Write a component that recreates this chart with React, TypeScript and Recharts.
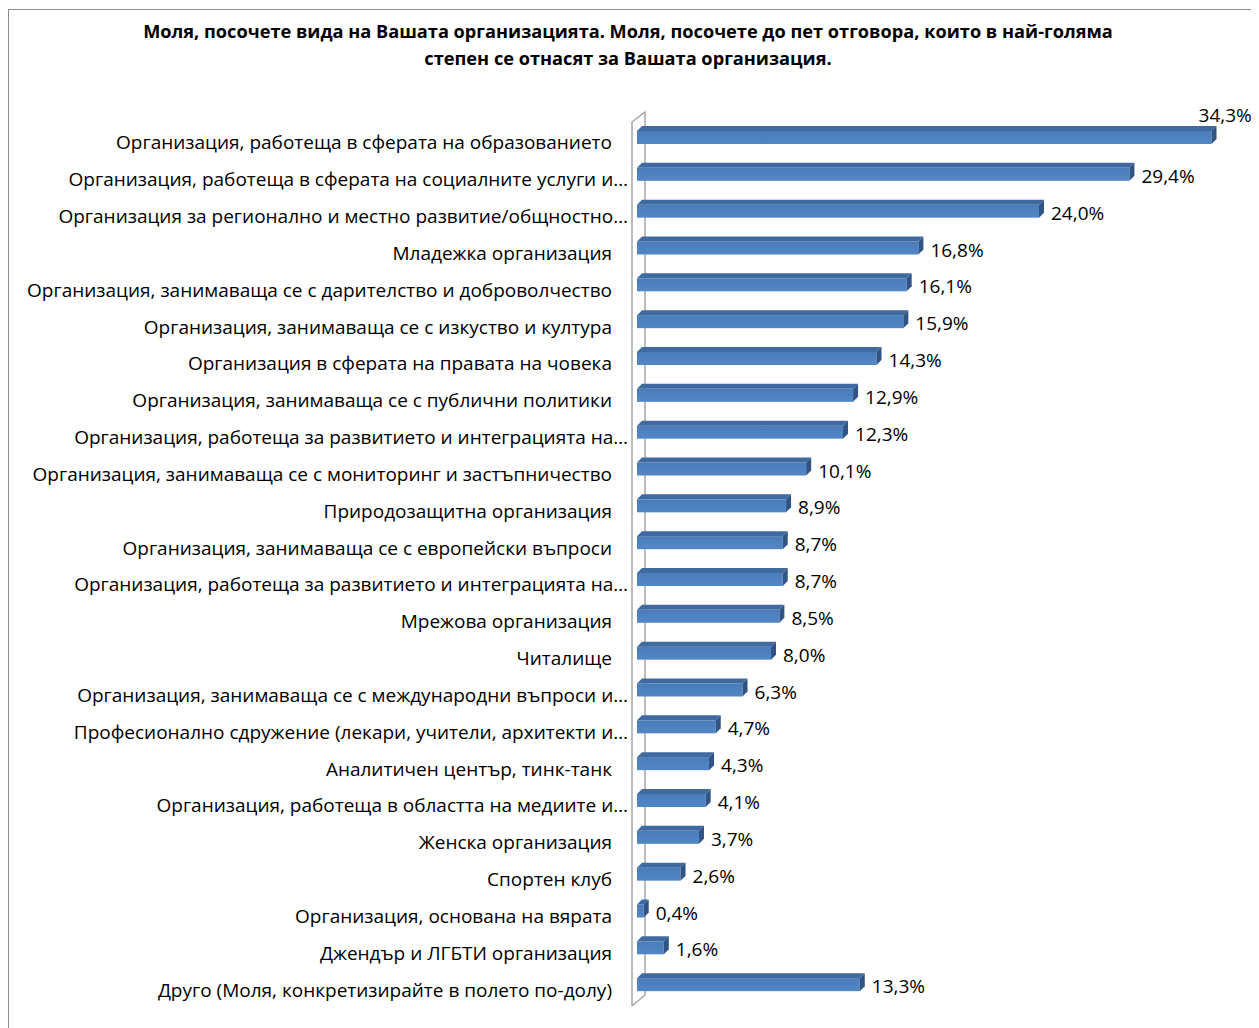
import React from 'react';
import { BarChart, Bar, XAxis, YAxis, LabelList, usePlotArea } from 'recharts';

const categories = [
  'Организация, работеща в сферата на образованието',
  'Организация, работеща в сферата на социалните услуги и…',
  'Организация за регионално и местно развитие/общностно…',
  'Младежка организация',
  'Организация, занимаваща се с дарителство и доброволчество',
  'Организация, занимаваща се с изкуство и култура',
  'Организация в сферата на правата на човека',
  'Организация, занимаваща се с публични политики',
  'Организация, работеща за развитието и интеграцията на…',
  'Организация, занимаваща се с мониторинг и застъпничество',
  'Природозащитна организация',
  'Организация, занимаваща се с европейски въпроси',
  'Организация, работеща за развитието и интеграцията на…',
  'Мрежова организация',
  'Читалище',
  'Организация, занимаваща се с международни въпроси и…',
  'Професионално сдружение (лекари, учители, архитекти и…',
  'Аналитичен център, тинк-танк',
  'Организация, работеща в областта на медиите и…',
  'Женска организация',
  'Спортен клуб',
  'Организация, основана на вярата',
  'Джендър и ЛГБТИ организация',
  'Друго (Моля, конкретизирайте в полето по-долу)',
];

const percents = [
  34.3, 29.4, 24.0, 16.8, 16.1, 15.9, 14.3, 12.9, 12.3, 10.1, 8.9, 8.7,
  8.7, 8.5, 8.0, 6.3, 4.7, 4.3, 4.1, 3.7, 2.6, 0.4, 1.6, 13.3,
];

const titleLines = [
  'Моля, посочете вида на Вашата организацията. Моля, посочете до пет отговора, които в най-голяма',
  'степен се отнасят за Вашата организация.',
];

const data = categories.map((name, i) => ({ id: i, name, value: percents[i] }));

const FONT = '"Open Sans", "Liberation Sans", sans-serif';
const D = 5; // depth of the 3d bars

const fmt = (v: number) => v.toFixed(1).replace('.', ',') + '%';

function Bar3D(props: any) {
  const { x, y, width, height } = props;
  if (width == null || height == null) return null;
  const w = Math.max(width, 2);
  return (
    <g>
      <rect x={x} y={y + D} width={w} height={height - D} fill="url(#frontGrad)" />
      <polygon
        points={`${x},${y + D} ${x + D},${y} ${x + w + D},${y} ${x + w},${y + D}`}
        fill="#3f6a9f"
      />
      <polygon
        points={`${x + w},${y + D} ${x + w + D},${y} ${x + w + D},${y + height - D} ${x + w},${y + height}`}
        fill="#2f5485"
      />
    </g>
  );
}

function Wall() {
  const area: any = usePlotArea ? usePlotArea() : null;
  if (!area) return null;
  const fx = area.x - 5;
  const bx = area.x + 8;
  const top = area.y;
  const bot = area.y + area.height;
  return (
    <g stroke="#a6a6a6" strokeWidth={1.5} fill="none">
      <path d={`M${fx},${bot + 5} L${fx},${top + 5} L${bx},${top - 5} L${bx},${bot - 6} L${fx},${bot + 5}`} />
    </g>
  );
}

function CatTick(props: any) {
  const { x, y, payload } = props;
  const label = categories[payload.value] ?? '';
  const shift = label.endsWith('…') ? 16 : 0;
  return (
    <text x={x + shift} y={y + 7} textAnchor="end" dominantBaseline="central" fill="#000" fontSize={19} fontFamily={FONT}>
      {label}
    </text>
  );
}

function ValueLabel(props: any) {
  const { x, y, width, height, value, index } = props;
  if (index === 0) {
    return (
      <text x={x + width - 13} y={y - 11} dominantBaseline="central" fill="#000" fontSize={19} fontFamily={FONT}>
        {fmt(value)}
      </text>
    );
  }
  return (
    <text x={x + width + 12} y={y + height / 2 + 4} dominantBaseline="central" fill="#000" fontSize={19} fontFamily={FONT}>
      {fmt(value)}
    </text>
  );
}

export default function App() {
  return (
    <div
      style={{
        position: 'relative',
        width: 1249,
        height: 1030,
        marginTop: 1,
        border: '1px solid #8c8c8c',
        background: '#fff',
        fontFamily: FONT,
      }}
    >
      <div
        style={{
          position: 'absolute',
          left: 0,
          top: 8,
          width: 1238,
          textAlign: 'center',
          fontWeight: 'bold',
          fontSize: 18.2,
          lineHeight: '27px',
          color: '#000',
        }}
      >
        {titleLines.map((t) => (
          <div key={t}>{t}</div>
        ))}
      </div>
      <BarChart
        width={1249}
        height={1018}
        data={data}
        layout="vertical"
        margin={{ top: 107, right: 18, bottom: 27, left: 0 }}
        barSize={18}
        style={{ position: 'absolute', left: 0, top: 0 }}
      >
        <defs>
          <linearGradient id="frontGrad" x1="0" y1="0" x2="0" y2="1">
            <stop offset="0%" stopColor="#4a7cb9" />
            <stop offset="100%" stopColor="#5287c6" />
          </linearGradient>
        </defs>
        <XAxis type="number" domain={[0, 36]} hide />
        <YAxis
          type="category"
          dataKey="id"
          width={628}
          axisLine={false}
          tickLine={false}
          tickSize={0}
          tickMargin={25}
          interval={0}
          tick={<CatTick />}
        />
        <Wall />
        <Bar dataKey="value" shape={<Bar3D />} isAnimationActive={false}>
          <LabelList dataKey="value" content={<ValueLabel />} />
        </Bar>
      </BarChart>
    </div>
  );
}
